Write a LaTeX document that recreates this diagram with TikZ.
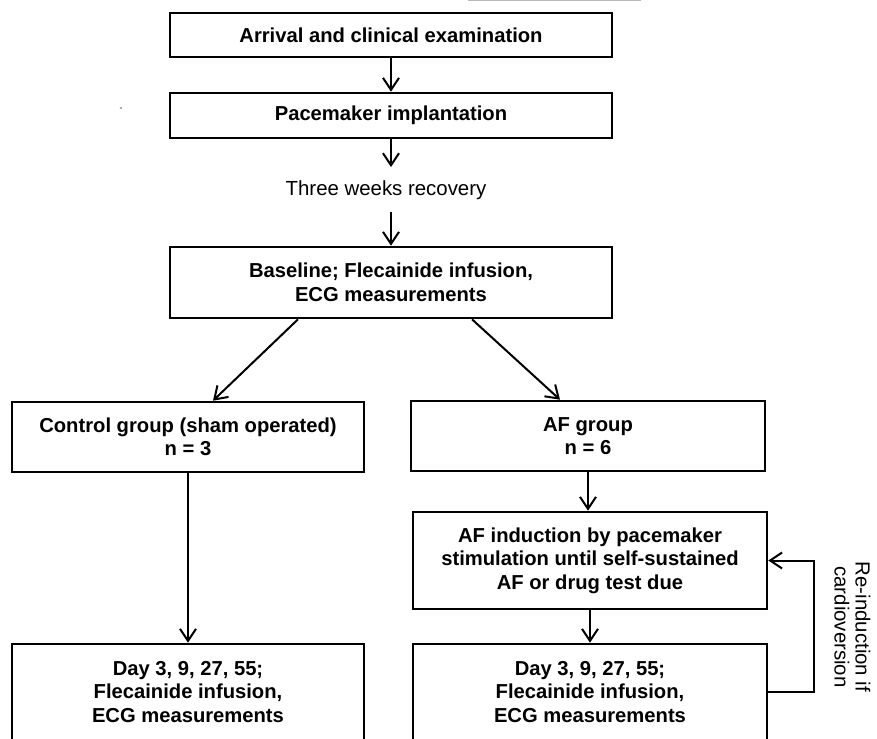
\documentclass[tikz,border=0pt]{standalone}
\usepackage{fontspec}
\setmainfont{Liberation Sans}
\usetikzlibrary{arrows.meta}
\begin{document}
\begin{tikzpicture}[x=1pt,y=-1pt,
  box/.style={draw, line width=2.6pt, align=center, inner sep=0pt,
    font=\bfseries\fontsize{20.2}{23.5}\selectfont},
  arr/.style={line width=2pt, -{Straight Barb[length=12pt,width=16pt,line width=2pt]}},
  lbl/.style={inner sep=0pt, align=center, font=\fontsize{20.4}{21}\selectfont}]
\useasboundingbox (0,0) rectangle (877,738);
\clip (0,0) rectangle (877,738);
% faint scan artefacts
\draw[gray!55, line width=1pt] (468,1) -- (641,1);
\fill[gray!70] (121,108) circle (1.3);
% boxes
\node[box, minimum width=442pt, minimum height=44pt] (b1) at (391,35) {Arrival and clinical examination};
\node[box, minimum width=442pt, minimum height=45pt] (b2) at (391,115.5) {Pacemaker implantation};
\node[lbl, anchor=base] (rec) at (386,195) {Three weeks recovery};
\node[box, minimum width=442pt, minimum height=71pt] (b3) at (391,282.5) {Baseline; Flecainide infusion,\\ECG measurements};
\node[box, minimum width=352pt, minimum height=70pt] (b4) at (188,437) {Control group (sham operated)\\n = 3};
\node[box, minimum width=354pt, minimum height=70pt] (b5) at (588,436) {AF group\\n = 6};
\node[box, minimum width=354pt, minimum height=97pt] (b7) at (590,560.5) {AF induction by pacemaker\\stimulation until self-sustained\\AF or drug test due};
\node[box, minimum width=352pt, minimum height=96pt] (b6) at (188,692) {Day 3, 9, 27, 55;\\Flecainide infusion,\\ECG measurements};
\node[box, minimum width=354pt, minimum height=96pt] (b8) at (590,692) {Day 3, 9, 27, 55;\\Flecainide infusion,\\ECG measurements};
\node[lbl, rotate=-90] (note) at (852.5,627) {Re-induction if\\cardioversion};
% connectors
\draw[arr] (b1.south) -- (b2.north);
\draw[arr, shorten >=13pt] (b2.south) -- (b2.south |- rec.north);
\draw[arr, shorten <=13pt] (b3.north |- rec.south) -- (b3.north);
\draw[arr] ([xshift=-93pt]b3.south) -- ([xshift=25pt]b4.north);
\draw[arr] ([xshift=81pt]b3.south) -- ([xshift=-28pt]b5.north);
\draw[arr] (b4.south) -- (b6.north);
\draw[arr] (b5.south) -- (b5.south |- b7.north);
\draw[arr] (b7.south) -- (b8.north);
\draw[arr] (b8.east) -- ++(46,0) |- (b7.east);
\end{tikzpicture}
\end{document}
